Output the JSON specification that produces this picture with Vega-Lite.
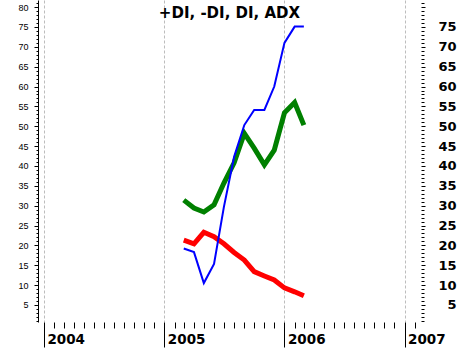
{
  "$schema": "https://vega.github.io/schema/vega-lite/v6.json",
  "width": 383,
  "height": 322,
  "autosize": {"type": "none"},
  "padding": {"left": 38, "right": 38, "top": 0, "bottom": 26},
  "background": "white",
  "config": {"view": {"stroke": null}},
  "title": {"text": "+DI, -DI, DI, ADX", "font": "DejaVu Sans", "fontSize": 15, "fontWeight": "bold", "color": "black", "anchor": "middle", "baseline": "alphabetic", "offset": -36, "frame": "group"},
  "data": {"values": [
    {"date": "2005-03-01", "series": "+DI", "value": 31.4},
    {"date": "2005-04-01", "series": "+DI", "value": 29.4},
    {"date": "2005-05-01", "series": "+DI", "value": 28.4},
    {"date": "2005-06-01", "series": "+DI", "value": 30.2},
    {"date": "2005-07-01", "series": "+DI", "value": 35.7},
    {"date": "2005-08-01", "series": "+DI", "value": 40.8},
    {"date": "2005-09-01", "series": "+DI", "value": 48.2},
    {"date": "2005-10-01", "series": "+DI", "value": 44.5},
    {"date": "2005-11-01", "series": "+DI", "value": 40.3},
    {"date": "2005-12-01", "series": "+DI", "value": 44.0},
    {"date": "2006-01-01", "series": "+DI", "value": 53.4},
    {"date": "2006-02-01", "series": "+DI", "value": 56.0},
    {"date": "2006-03-01", "series": "+DI", "value": 50.3},
    {"date": "2005-03-01", "series": "-DI", "value": 21.3},
    {"date": "2005-04-01", "series": "-DI", "value": 20.4},
    {"date": "2005-05-01", "series": "-DI", "value": 23.3},
    {"date": "2005-06-01", "series": "-DI", "value": 22.2},
    {"date": "2005-07-01", "series": "-DI", "value": 20.4},
    {"date": "2005-08-01", "series": "-DI", "value": 18.2},
    {"date": "2005-09-01", "series": "-DI", "value": 16.3},
    {"date": "2005-10-01", "series": "-DI", "value": 13.4},
    {"date": "2005-11-01", "series": "-DI", "value": 12.3},
    {"date": "2005-12-01", "series": "-DI", "value": 11.3},
    {"date": "2006-01-01", "series": "-DI", "value": 9.3},
    {"date": "2006-02-01", "series": "-DI", "value": 8.3},
    {"date": "2006-03-01", "series": "-DI", "value": 7.3},
    {"date": "2005-03-01", "series": "ADX", "value": 19.2},
    {"date": "2005-04-01", "series": "ADX", "value": 18.3},
    {"date": "2005-05-01", "series": "ADX", "value": 10.5},
    {"date": "2005-06-01", "series": "ADX", "value": 15.3},
    {"date": "2005-07-01", "series": "ADX", "value": 29.7},
    {"date": "2005-08-01", "series": "ADX", "value": 42.3},
    {"date": "2005-09-01", "series": "ADX", "value": 50.3},
    {"date": "2005-10-01", "series": "ADX", "value": 54.1},
    {"date": "2005-11-01", "series": "ADX", "value": 54.1},
    {"date": "2005-12-01", "series": "ADX", "value": 60.0},
    {"date": "2006-01-01", "series": "ADX", "value": 71.0},
    {"date": "2006-02-01", "series": "ADX", "value": 75.1},
    {"date": "2006-03-01", "series": "ADX", "value": 75.1}
  ]},
  "encoding": {
    "x": {
      "field": "date", "type": "temporal",
      "scale": {"type": "utc", "domain": [{"year": 2003, "month": 12, "date": 14, "utc": true}, {"year": 2007, "month": 2, "date": 20, "utc": true}]},
      "axis": {
        "title": null,
        "values": [
          {"year": 2004, "month": 1, "date": 1, "utc": true}, {"year": 2004, "month": 2, "date": 1, "utc": true}, {"year": 2004, "month": 3, "date": 1, "utc": true}, {"year": 2004, "month": 4, "date": 1, "utc": true}, {"year": 2004, "month": 5, "date": 1, "utc": true}, {"year": 2004, "month": 6, "date": 1, "utc": true}, {"year": 2004, "month": 7, "date": 1, "utc": true}, {"year": 2004, "month": 8, "date": 1, "utc": true}, {"year": 2004, "month": 9, "date": 1, "utc": true}, {"year": 2004, "month": 10, "date": 1, "utc": true}, {"year": 2004, "month": 11, "date": 1, "utc": true}, {"year": 2004, "month": 12, "date": 1, "utc": true},
          {"year": 2005, "month": 1, "date": 1, "utc": true}, {"year": 2005, "month": 2, "date": 1, "utc": true}, {"year": 2005, "month": 3, "date": 1, "utc": true}, {"year": 2005, "month": 4, "date": 1, "utc": true}, {"year": 2005, "month": 5, "date": 1, "utc": true}, {"year": 2005, "month": 6, "date": 1, "utc": true}, {"year": 2005, "month": 7, "date": 1, "utc": true}, {"year": 2005, "month": 8, "date": 1, "utc": true}, {"year": 2005, "month": 9, "date": 1, "utc": true}, {"year": 2005, "month": 10, "date": 1, "utc": true}, {"year": 2005, "month": 11, "date": 1, "utc": true}, {"year": 2005, "month": 12, "date": 1, "utc": true},
          {"year": 2006, "month": 1, "date": 1, "utc": true}, {"year": 2006, "month": 2, "date": 1, "utc": true}, {"year": 2006, "month": 3, "date": 1, "utc": true}, {"year": 2006, "month": 4, "date": 1, "utc": true}, {"year": 2006, "month": 5, "date": 1, "utc": true}, {"year": 2006, "month": 6, "date": 1, "utc": true}, {"year": 2006, "month": 7, "date": 1, "utc": true}, {"year": 2006, "month": 8, "date": 1, "utc": true}, {"year": 2006, "month": 9, "date": 1, "utc": true}, {"year": 2006, "month": 10, "date": 1, "utc": true}, {"year": 2006, "month": 11, "date": 1, "utc": true}, {"year": 2006, "month": 12, "date": 1, "utc": true},
          {"year": 2007, "month": 1, "date": 1, "utc": true}, {"year": 2007, "month": 2, "date": 1, "utc": true}
        ],
        "domain": false,
        "grid": true,
        "gridColor": "#bdbdbd",
        "gridDash": [3, 2],
        "gridOpacity": {"condition": {"test": "utcmonth(datum.value) == 0", "value": 1}, "value": 0},
        "tickColor": "black",
        "tickSize": {"condition": {"test": "utcmonth(datum.value) == 0", "value": 25}, "value": 6},
        "labelExpr": "utcmonth(datum.value) == 0 ? utcFormat(datum.value, '%Y') : ''",
        "labelAlign": "left",
        "labelBaseline": "alphabetic",
        "labelOffset": 3,
        "labelPadding": -4,
        "labelFont": "DejaVu Sans",
        "labelFontSize": 13.5,
        "labelFontWeight": "bold",
        "labelColor": "black",
        "labelOverlap": false,
        "labelBound": false,
        "labelFlush": false,
        "encoding": {"labels": {"limit": {"signal": "utcyear(datum.value) >= 2007 ? 20 : 200"}, "ellipsis": {"value": "\u200b"}}}
      }
    },
    "color": {"field": "series", "type": "nominal", "scale": {"domain": ["+DI", "-DI", "ADX"], "range": ["#008000", "#ff0000", "#0000ff"]}, "legend": null}
  },
  "layer": [
    {
      "transform": [{"filter": "datum.series != 'ADX'"}],
      "mark": {"type": "line", "strokeWidth": 5},
      "encoding": {
        "y": {
          "field": "value", "type": "quantitative",
          "scale": {"domain": [0.7, 81.8], "nice": false, "zero": false},
          "axis": {
            "orient": "left", "title": null,
            "values": [1,2,3,4,5,6,7,8,9,10,11,12,13,14,15,16,17,18,19,20,21,22,23,24,25,26,27,28,29,30,31,32,33,34,35,36,37,38,39,40,41,42,43,44,45,46,47,48,49,50,51,52,53,54,55,56,57,58,59,60,61,62,63,64,65,66,67,68,69,70,71,72,73,74,75,76,77,78,79,80,81],
            "grid": false,
            "domain": true, "domainColor": "black",
            "tickColor": "black",
            "tickSize": {"condition": {"test": "datum.value % 5 == 0", "value": 4}, "value": 2},
            "labelExpr": "datum.value % 5 == 0 ? datum.label : ''",
            "labelFont": "Liberation Sans", "labelFontSize": 9, "labelColor": "black",
            "labelPadding": 6,
            "labelOverlap": false, "labelBound": false, "labelFlush": false
          }
        }
      }
    },
    {
      "transform": [{"filter": "datum.series == 'ADX'"}],
      "mark": {"type": "line", "strokeWidth": 2},
      "encoding": {
        "y": {
          "field": "value", "type": "quantitative",
          "scale": {"domain": [0.7, 81.8], "nice": false, "zero": false},
          "axis": {
            "orient": "right", "title": null,
            "values": [1,2,3,4,5,6,7,8,9,10,11,12,13,14,15,16,17,18,19,20,21,22,23,24,25,26,27,28,29,30,31,32,33,34,35,36,37,38,39,40,41,42,43,44,45,46,47,48,49,50,51,52,53,54,55,56,57,58,59,60,61,62,63,64,65,66,67,68,69,70,71,72,73,74,75,76,77,78,79,80,81],
            "grid": false,
            "domain": false,
            "tickColor": "black",
            "tickSize": {"condition": {"test": "datum.value % 5 == 0", "value": 4}, "value": 3},
            "labelExpr": "datum.value % 5 == 0 && datum.value < 80 ? datum.label : ''",
            "labelAlign": "right",
            "labelPadding": 31,
            "labelFont": "DejaVu Sans", "labelFontSize": 13, "labelFontWeight": "bold", "labelColor": "black",
            "labelOverlap": false, "labelBound": false, "labelFlush": false
          }
        }
      }
    }
  ],
  "resolve": {"axis": {"y": "independent"}}
}
